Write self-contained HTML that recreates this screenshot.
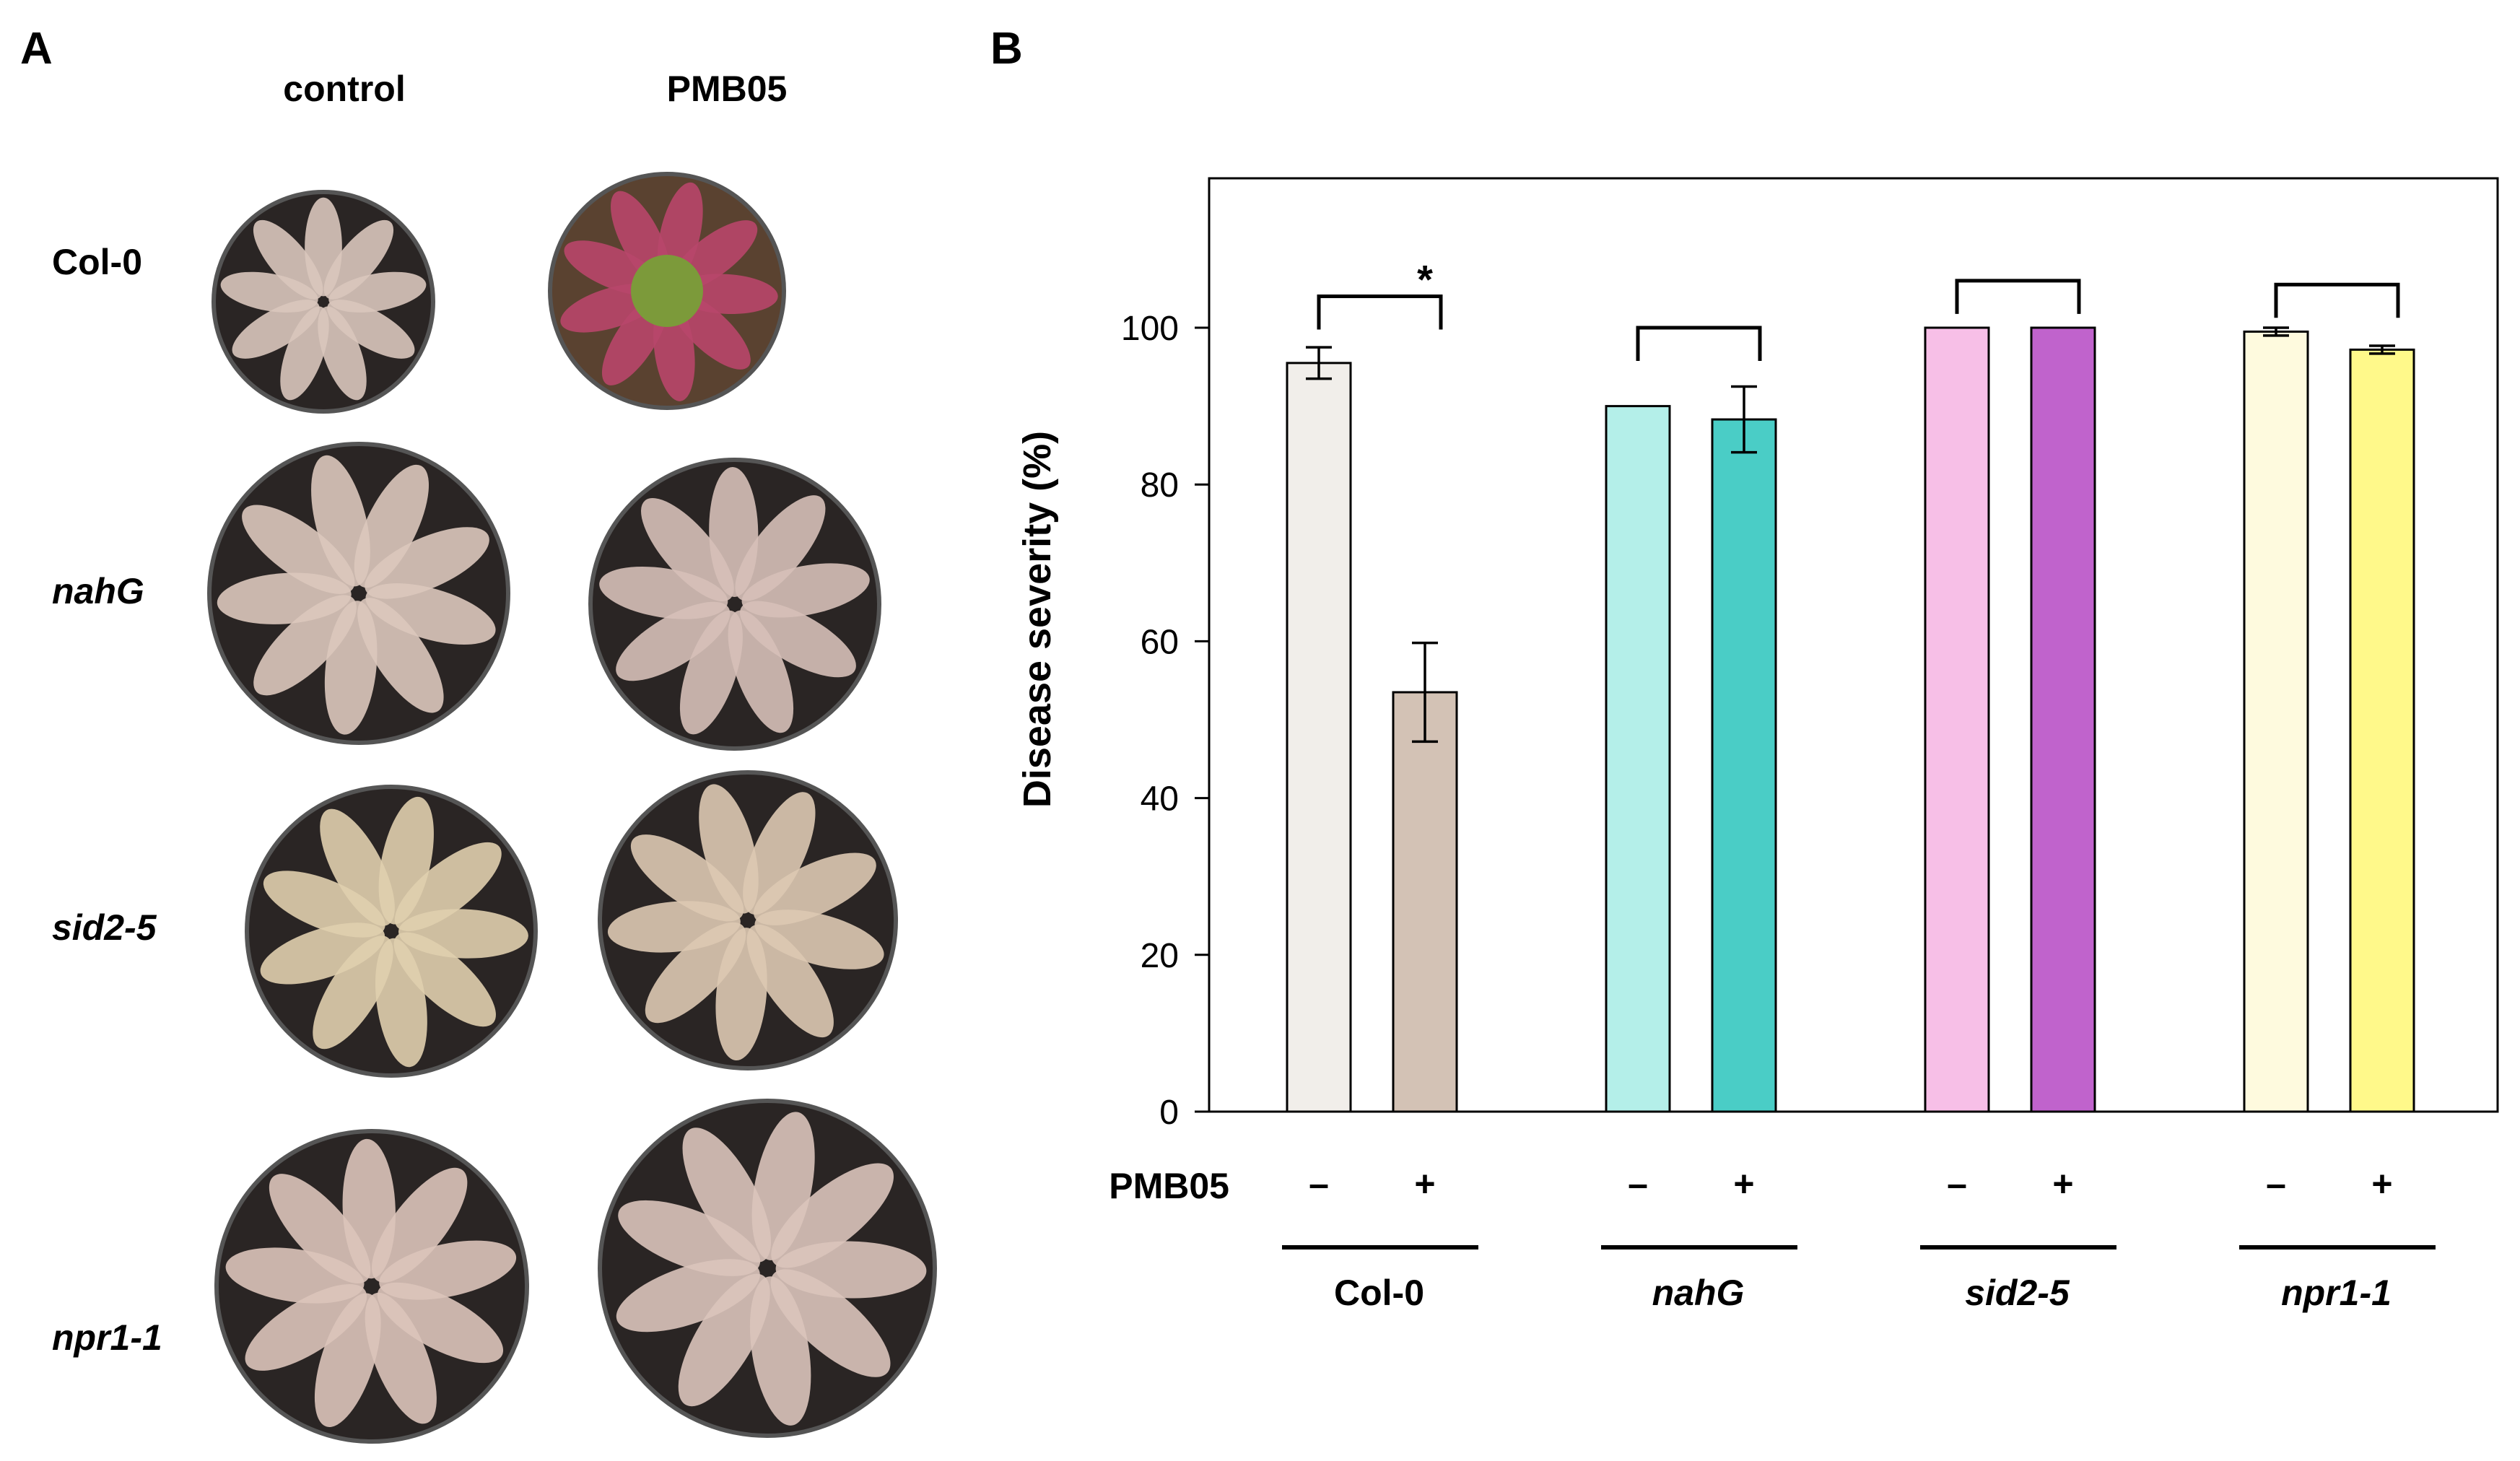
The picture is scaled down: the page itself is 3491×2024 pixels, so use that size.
<!DOCTYPE html>
<html><head><meta charset="utf-8"><style>
body{margin:0;background:#fff;}
svg{display:block;font-family:"Liberation Sans",sans-serif;}
</style></head><body>
<svg id="fig" width="3491" height="2024" viewBox="0 0 3491 2024">
<text x="28" y="88" font-size="62" font-weight="bold">A</text>
<text x="1372" y="88" font-size="62" font-weight="bold">B</text>
<text x="477" y="140" font-size="50" font-weight="bold" text-anchor="middle">control</text>
<text x="1007" y="140" font-size="50" font-weight="bold" text-anchor="middle">PMB05</text>
<text x="72" y="380" font-size="50" font-weight="bold">Col-0</text>
<text x="72" y="836" font-size="50" font-weight="bold" font-style="italic">nahG</text>
<text x="72" y="1302" font-size="50" font-weight="bold" font-style="italic">sid2-5</text>
<text x="72" y="1870" font-size="50" font-weight="bold" font-style="italic">npr1-1</text>
<g id="photos"></g>
<g id="chart"></g>
</svg>
<script>
// ---- Chart data ----
const groups = ["Col-0", "nahG", "sid2-5", "npr1-1"];
const controlValues = [95.5, 90, 100, 99.5];
const treatedValues = [53.5, 88.3, 100, 97.2];
const controlErrors = [2.0, 0, 0, 0.5];
const treatedErrors = [6.3, 4.2, 0, 0.5];
const yTicks = [0, 20, 40, 60, 80, 100];
const controlColors = ["#f1eeea", "#b4efe9", "#f7bfe7", "#fefade"];
const treatedColors = ["#d3c2b5", "#4acdc6", "#c063cc", "#fff98a"];
const bracketTops = [104, 100, 106, 105.5];
const significance = ["*", "", "", ""];

const NS = "http://www.w3.org/2000/svg";
function mk(tag, attrs, parent){const e=document.createElementNS(NS,tag);for(const k in attrs)e.setAttribute(k,attrs[k]);parent.appendChild(e);return e;}
const chart=document.getElementById('chart');
const X0=1675, X1=3460, YB=1540, YT=247;
const yScale=v=>YB-v*10.86;
const groupStart=i=>1783+i*442;
const BW=88, GAP=59;

const frame=mk('rect',{x:X0,y:YT,width:X1-X0,height:YB-YT,fill:'none',stroke:'#000','stroke-width':3},chart);



yTicks.forEach(t=>{
  const y=yScale(t);
  const tk=mk('line',{x1:X0-20,x2:X0,y1:y,y2:y,stroke:'#000','stroke-width':3},chart);
  
  
  const lb=mk('text',{x:X0-42,y:y+17,'font-size':48,'text-anchor':'end'},chart);
  lb.textContent=t;
  
  
});
const yt=mk('text',{x:0,y:0,'font-size':54,'font-weight':'bold','text-anchor':'middle',transform:'translate(1455,858) rotate(-90)'},chart);
yt.textContent='Disease severity (%)';



function errBar(cx,v,e){
  if(!e)return;
  const g=mk('g',{stroke:'#000','stroke-width':3.5},chart);
  
  
  mk('line',{x1:cx,x2:cx,y1:yScale(v+e),y2:yScale(v-e)},g);
  mk('line',{x1:cx-18,x2:cx+18,y1:yScale(v+e),y2:yScale(v+e)},g);
  mk('line',{x1:cx-18,x2:cx+18,y1:yScale(v-e),y2:yScale(v-e)},g);
}
const pm=mk('text',{x:1703,y:1660,'font-size':50,'font-weight':'bold','text-anchor':'end'},chart);
pm.textContent='PMB05';



groups.forEach((g,i)=>{
  const x1=groupStart(i), x2=x1+BW+GAP;
  const b1=mk('rect',{x:x1,y:yScale(controlValues[i]),width:BW,height:YB-yScale(controlValues[i]),fill:controlColors[i],stroke:'#000','stroke-width':3},chart);
  
  
  const b2=mk('rect',{x:x2,y:yScale(treatedValues[i]),width:BW,height:YB-yScale(treatedValues[i]),fill:treatedColors[i],stroke:'#000','stroke-width':3},chart);
  
  
  errBar(x1+BW/2,controlValues[i],controlErrors[i]);
  errBar(x2+BW/2,treatedValues[i],treatedErrors[i]);
  const bt=yScale(bracketTops[i]);
  const bl=x1+BW/2, br=x2+BW/2+22;
  const bk=mk('path',{d:`M${bl} ${bt+46} V${bt} H${br} V${bt+46}`,fill:'none',stroke:'#000','stroke-width':5},chart);
  
  
  if(significance[i]){
    const s=mk('text',{x:br-22,y:bt-4,'font-size':56,'font-weight':'bold','text-anchor':'middle'},chart);
    s.textContent=significance[i];
    
    
  }
  const mn=mk('text',{x:x1+BW/2,y:1657,'font-size':50,'font-weight':'bold','text-anchor':'middle'},chart);
  mn.textContent='\u2013';
  
  
  const pl=mk('text',{x:x2+BW/2,y:1657,'font-size':50,'font-weight':'bold','text-anchor':'middle'},chart);
  pl.textContent='+';
  
  
  const ln=mk('line',{x1:x1-7,x2:x2+BW+30,y1:1728,y2:1728,stroke:'#000','stroke-width':6},chart);
  
  
  const gl=mk('text',{x:(x1+x2+BW)/2+10,y:1808,'font-size':50,'font-weight':'bold','text-anchor':'middle','font-style':i?'italic':'normal'},chart);
  gl.textContent=g;
  
  
});

// ---- Photo placeholders ----
const photos=document.getElementById('photos');
const pots=[[448,418,152,'#d9c7bd'],[924,403,162,'#b8466a'],[497,822,207,'#dcc8bd'],[1018,837,200,'#d6c0b8'],[542,1290,200,'#e0cfae'],[1036,1275,205,'#ddc9b3'],[515,1782,215,'#dcc4ba'],[1063,1757,232,'#dac4bb']];
pots.forEach((p,i)=>{
  const g=mk('g',{},photos);
  
  
  mk('circle',{cx:p[0],cy:p[1],r:p[2],fill:i==1?'#5a4230':'#2a2524',stroke:'#555','stroke-width':6},g);
  for(let k=0;k<9;k++){
    const a=k*40+i*13;
    mk('ellipse',{cx:p[0],cy:p[1]-p[2]*0.5,rx:p[2]*0.17,ry:p[2]*0.45,fill:p[3],opacity:0.9,transform:`rotate(${a} ${p[0]} ${p[1]})`},g);
  }
  if(i==1){mk('circle',{cx:p[0],cy:p[1],r:50,fill:'#7c9a3a'},g);}
});
</script>
</body></html>
